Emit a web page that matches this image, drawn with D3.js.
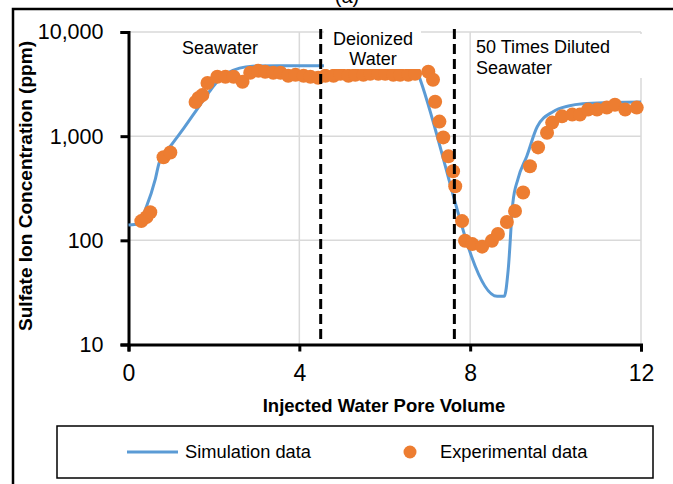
<!DOCTYPE html>
<html>
<head>
<meta charset="utf-8">
<title>Sulfate ion concentration vs pore volume</title>
<script src="https://cdn.jsdelivr.net/npm/d3@7"></script>
<style>
  body { margin: 0; background: #fff; }
  text { font-family: "Liberation Sans", Arial, sans-serif; fill: #000; }
</style>
</head>
<body>
<svg id="chart" width="673" height="484"></svg>
<script>
// simulation curve (pore volume -> ppm)
var simX = [0, 0.25, 0.4, 0.63, 0.72, 1.0, 1.3, 1.6, 1.9, 2.1, 2.35, 2.6, 2.9, 3.5, 4.6, 6.72,
            6.83, 8.63, 8.80, 8.89, 9.0, 9.12, 9.33, 9.57, 9.94, 10.3, 10.64, 11.3, 12];
var simY = [140, 145, 200, 390, 560, 820, 1200, 1800, 2700, 3400, 4100, 4500, 4700, 4750, 4750, 4700,
            3500, 29, 29, 52, 230, 390, 650, 1230, 1720, 1950, 2050, 2100, 2130];

// experimental points
var expX = [0.30, 0.42, 0.51, 0.82, 0.98, 1.57, 1.64, 1.73, 1.85, 2.08, 2.27, 2.46, 2.67, 2.85,
            3.04, 3.20, 3.39, 3.56, 3.74, 3.91, 4.10, 4.26, 4.44, 4.61, 4.80, 4.96, 5.15, 5.31,
            5.50, 5.66, 5.85, 6.01, 6.20, 6.36, 6.55, 6.71, 7.02, 7.13, 7.18, 7.28, 7.37, 7.49,
            7.60, 7.65, 7.81, 7.88, 8.05, 8.28, 8.51, 8.65, 8.86, 9.05, 9.24, 9.40, 9.59, 9.80,
            9.92, 10.15, 10.39, 10.57, 10.76, 10.97, 11.20, 11.39, 11.63, 11.90];
var expY = [153, 167, 186, 627, 698, 2130, 2330, 2480, 3240, 3720, 3720, 3720, 3330, 4060,
            4240, 4150, 4060, 4060, 3800, 3880, 3800, 3720, 3640, 3800, 3800, 3970, 3800, 3880,
            3880, 3970, 3970, 3970, 3880, 3880, 3880, 3970, 4150, 3480, 2140, 1380, 973, 640,
            460, 330, 153, 99, 92, 87, 99, 115, 150, 191, 288, 515, 780, 1080,
            1350, 1550, 1610, 1610, 1800, 1800, 1880, 2000, 1800, 1880];

var xTicks = [0, 4, 8, 12];
var yTicks = [10, 100, 1000, 10000];
var stageBounds = [4.5, 7.63];
var stageNames = [["Seawater"], ["Deionized", "Water"], ["50 Times Diluted", "Seawater"]];
var seriesNames = ["Simulation data", "Experimental data"];

var blue = "#5b9bd5", orange = "#ed7d31", grid = "#d9d9d9";

var svg = d3.select("#chart");

var x = d3.scaleLinear().domain([0, 12]).range([128.5, 641]);
var y = d3.scaleLog().domain([10, 10000]).range([344.5, 32]);

// figure frame + clipped panel tag
svg.append("text").attr("x", 347).attr("y", 3).attr("text-anchor", "middle")
  .style("font-size", "20px").text("(a)");
svg.append("rect").attr("x", 13).attr("y", 9).attr("width", 700).attr("height", 520)
  .attr("fill", "none").attr("stroke", "#000").attr("stroke-width", 2.5);

// gridlines
svg.append("g").selectAll("line").data(yTicks.slice(1)).enter().append("line")
  .attr("x1", x(0)).attr("x2", x(12))
  .attr("y1", function(d){ return y(d); }).attr("y2", function(d){ return y(d); })
  .attr("stroke", grid).attr("stroke-width", 1.5);
svg.append("g").selectAll("line").data(xTicks.slice(1)).enter().append("line")
  .attr("y1", y(10)).attr("y2", y(10000))
  .attr("x1", function(d){ return x(d); }).attr("x2", function(d){ return x(d); })
  .attr("stroke", grid).attr("stroke-width", 1.5);

// axes
var yAxis = d3.axisLeft(y).tickValues(yTicks).tickSize(8).tickFormat(d3.format(","));
var xAxis = d3.axisBottom(x).tickValues(xTicks).tickSize(7).tickFormat(d3.format("d"));

var gy = svg.append("g").attr("transform", "translate(" + x(0) + ",0)").call(yAxis);
var gx = svg.append("g").attr("transform", "translate(0," + y(10) + ")").call(xAxis);
[gy, gx].forEach(function(g){
  g.select(".domain").attr("stroke", "#000").attr("stroke-width", 3);
  g.selectAll(".tick line").attr("stroke", "#000").attr("stroke-width", 3);
  g.selectAll(".tick text")
    .style("font-family", "'Liberation Sans', Arial, sans-serif").attr("fill", "#000");
});
gy.selectAll(".tick text").attr("x", -25).style("font-size", "21.5px");
gx.selectAll(".tick text").attr("y", 20).style("font-size", "23px");

svg.append("text").attr("x", 384).attr("y", 412).attr("text-anchor", "middle")
  .style("font-size", "18.5px").style("font-weight", "bold").text("Injected Water Pore Volume");
svg.append("text").attr("transform", "translate(32,186) rotate(-90)").attr("text-anchor", "middle")
  .attr("textLength", 290).attr("lengthAdjust", "spacingAndGlyphs")
  .style("font-size", "18.5px").style("font-weight", "bold").text("Sulfate Ion Concentration (ppm)");

// simulation line
var simData = simX.map(function(d, i){ return [d, simY[i]]; });
svg.append("path").datum(simData)
  .attr("fill", "none").attr("stroke", blue).attr("stroke-width", 3)
  .attr("d", d3.line().x(function(d){ return x(d[0]); }).y(function(d){ return y(d[1]); })
    .curve(d3.curveMonotoneX));

// experimental dots
svg.append("g").selectAll("circle").data(expX).enter().append("circle")
  .attr("cx", function(d){ return x(d); })
  .attr("cy", function(d, i){ return y(expY[i]); })
  .attr("r", 7).attr("fill", orange);

// stage labels sit in white text boxes on top of the plot
var boxes = [
  {x0: 160, x1: 285, y0: 33, y1: 63, tx: 220, ty: [54], anchor: "middle"},
  {x0: 324, x1: 421, y0: 26, y1: 69, tx: 373, ty: [45, 65], anchor: "middle"},
  {x0: 473, x1: 646, y0: 34, y1: 78, tx: 476, ty: [53, 74], anchor: "start"}
];
boxes.forEach(function(b, i){
  svg.append("rect").attr("x", b.x0).attr("y", b.y0)
    .attr("width", b.x1 - b.x0).attr("height", b.y1 - b.y0).attr("fill", "#fff");
  stageNames[i].forEach(function(s, j){
    svg.append("text").attr("x", b.tx).attr("y", b.ty[j]).attr("text-anchor", b.anchor)
      .style("font-size", "18px").text(s);
  });
});

// stage boundaries
svg.append("g").selectAll("line").data(stageBounds).enter().append("line")
  .attr("x1", function(d){ return x(d); }).attr("x2", function(d){ return x(d); })
  .attr("y1", 29).attr("y2", y(10))
  .attr("stroke", "#000").attr("stroke-width", 3).attr("stroke-dasharray", "10,5");

// legend
var lg = svg.append("g");
lg.append("rect").attr("x", 57).attr("y", 426).attr("width", 596).attr("height", 52)
  .attr("fill", "#fff").attr("stroke", "#000").attr("stroke-width", 1.5);
lg.append("line").attr("x1", 127).attr("x2", 178).attr("y1", 452).attr("y2", 452)
  .attr("stroke", blue).attr("stroke-width", 3);
lg.append("text").attr("x", 185).attr("y", 458).style("font-size", "18.3px").text(seriesNames[0]);
lg.append("circle").attr("cx", 410).attr("cy", 452).attr("r", 6.5).attr("fill", orange);
lg.append("text").attr("x", 440).attr("y", 458).style("font-size", "18.3px").text(seriesNames[1]);
</script>
</body>
</html>
